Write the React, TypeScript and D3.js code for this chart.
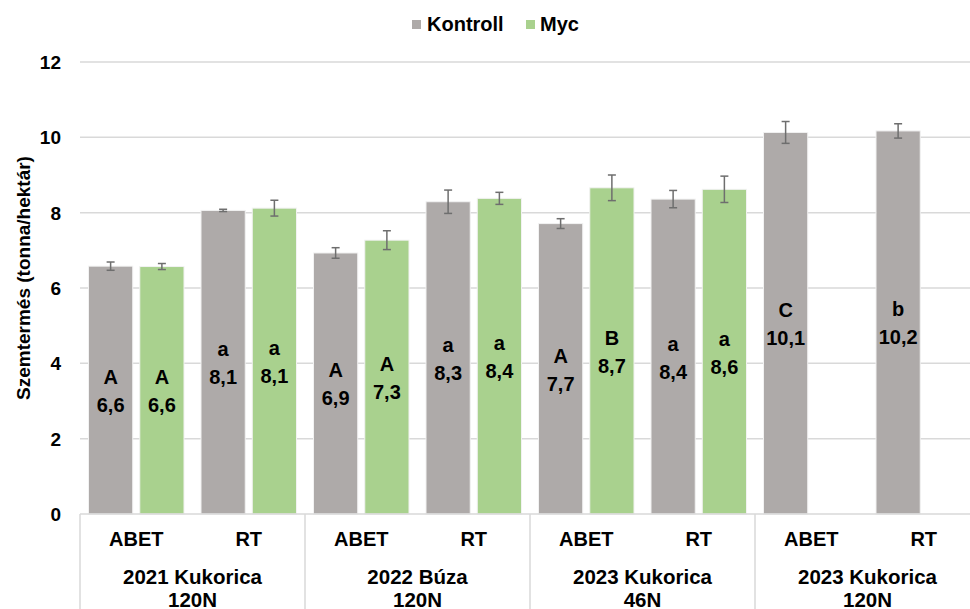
import React from "react";
import * as d3 from "d3";

const groups = ["2021 Kukorica|120N", "2022 Búza|120N", "2023 Kukorica|46N", "2023 Kukorica|120N"];
const tillage = ["ABET", "RT"];
const seriesNames = ["Kontroll", "Myc"];
const kontroll = [6.58, 8.06, 6.93, 8.29, 7.71, 8.36, 10.13, 10.17];
const myc: (number | null)[] = [6.57, 8.12, 7.27, 8.38, 8.66, 8.62, null, null];
const kontrollErr = [0.11, 0.03, 0.14, 0.31, 0.13, 0.23, 0.29, 0.19];
const mycErr = [0.08, 0.21, 0.25, 0.16, 0.34, 0.35, 0, 0];
const kontrollLetters = ["A", "a", "A", "a", "A", "a", "C", "b"];
const mycLetters = ["A", "a", "A", "a", "B", "a", "", ""];
const yTicks = [0, 2, 4, 6, 8, 10, 12];

const W = 970, H = 609;
const FONT = "'Liberation Sans', Arial, sans-serif";
const COLORS: Record<string, string> = { Kontroll: "#AEAAA9", Myc: "#A9D18E" };

export default function App() {
  const slots = groups.flatMap((g, gi) => tillage.map((t, ti) => `${gi}-${ti}`));
  const x = d3.scaleBand<string>().domain(slots).range([80, 980]).paddingInner(0).paddingOuter(0);
  const xSub = d3.scaleBand<string>().domain(seriesNames).range([8.5, 104]).paddingInner(0.137);
  const y = d3.scaleLinear().domain([0, 12]).range([514, 62]);
  const fmt = (v: number) => d3.format(".1f")(v).replace(".", ",");

  const bars: { key: string; s: string; v: number; e: number; l: string; i: number }[] = [];
  slots.forEach((k, i) => {
    bars.push({ key: k, s: "Kontroll", v: kontroll[i], e: kontrollErr[i], l: kontrollLetters[i], i });
    const m = myc[i];
    if (m != null) bars.push({ key: k, s: "Myc", v: m, e: mycErr[i], l: mycLetters[i], i });
  });

  const groupW = x.step() * 2;

  return (
    <svg width={W} height={H} style={{ position: "absolute", left: 0, top: 0, background: "#fff" }} fontFamily={FONT}>
      {/* legend */}
      <g fontSize={20} fontWeight="bold">
        <rect x={412} y={20} width={9} height={9} fill={COLORS.Kontroll} />
        <text x={427} y={31}>Kontroll</text>
        <rect x={526} y={20} width={9} height={9} fill={COLORS.Myc} />
        <text x={540} y={31}>Myc</text>
      </g>
      {/* gridlines */}
      {yTicks.map((t) => (
        <g key={t}>
          {t > 0 && <line x1={80} x2={W} y1={y(t)} y2={y(t)} stroke="#D9D9D9" strokeWidth={1.5} />}
          <text x={61} y={y(t) + 7} textAnchor="end" fontSize={19} fontWeight="bold">{t}</text>
        </g>
      ))}
      {/* y title */}
      <text transform={`translate(30,278) rotate(-90)`} textAnchor="middle" fontSize={19} fontWeight="bold">
        Szemtermés (tonna/hektár)
      </text>
      {/* bars */}
      {bars.map((b) => {
        const bx = (x(b.key) as number) + (xSub(b.s) as number);
        const bw = xSub.bandwidth();
        const cx = bx + bw / 2;
        const mid = (y(b.v) + y(0)) / 2;
        return (
          <g key={b.key + b.s}>
            <rect x={bx} y={y(b.v)} width={bw} height={y(0) - y(b.v)} fill={COLORS[b.s]} stroke="#F2F2F2" strokeWidth={1} />
            <g stroke="#6E6E6E" strokeWidth={1.5}>
              <line x1={cx} x2={cx} y1={y(b.v + b.e)} y2={y(b.v - b.e)} />
              <line x1={cx - 4} x2={cx + 4} y1={y(b.v + b.e)} y2={y(b.v + b.e)} />
              <line x1={cx - 4} x2={cx + 4} y1={y(b.v - b.e)} y2={y(b.v - b.e)} />
            </g>
            <text x={cx} y={mid - 6} textAnchor="middle" fontSize={20} fontWeight="bold">{b.l}</text>
            <text x={cx} y={mid + 22} textAnchor="middle" fontSize={20} fontWeight="bold">{fmt(b.v)}</text>
          </g>
        );
      })}
      {/* x axis */}
      <line x1={80} x2={W} y1={y(0)} y2={y(0)} stroke="#D9D9D9" strokeWidth={1.5} />
      {groups.map((g, gi) => {
        const gx = x(`${gi}-0`) as number;
        const [l1, l2] = g.split("|");
        return (
          <g key={g}>
            <line x1={gx} x2={gx} y1={y(0)} y2={H} stroke="#D9D9D9" strokeWidth={1.5} />
            <text x={gx + groupW / 2} y={584} textAnchor="middle" fontSize={20.5} fontWeight="bold">{l1}</text>
            <text x={gx + groupW / 2} y={607} textAnchor="middle" fontSize={20.5} fontWeight="bold">{l2}</text>
          </g>
        );
      })}
      {slots.map((k, i) => (
        <text key={k} x={(x(k) as number) + x.bandwidth() / 2} y={546} textAnchor="middle" fontSize={20} fontWeight="bold">
          {tillage[i % 2]}
        </text>
      ))}
    </svg>
  );
}
